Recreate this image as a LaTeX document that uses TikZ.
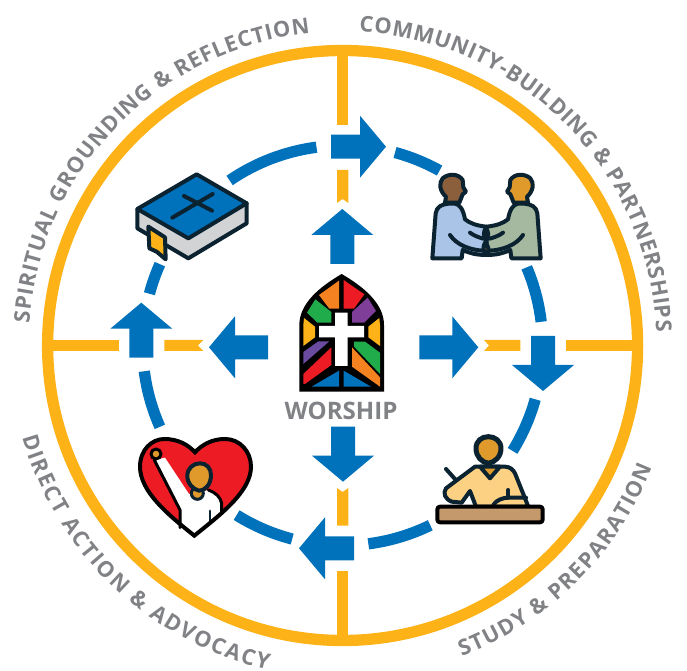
\documentclass[tikz,border=0pt]{standalone}
\usepackage{fontspec}
\setmainfont{Open Sans}
\usetikzlibrary{decorations.text}
\definecolor{ringgold}{HTML}{FDB217}
\definecolor{flowblue}{HTML}{0072BC}
\definecolor{labelgray}{HTML}{808285}
\definecolor{iconnavy}{HTML}{0B2230}
\definecolor{skinbrown}{HTML}{8B5E3C}
\definecolor{skingold}{HTML}{DF9A2B}
\definecolor{shirtblue}{HTML}{A9C4E6}
\definecolor{shirtgreen}{HTML}{A5B9A0}
\definecolor{shirtpeach}{HTML}{FDD183}
\definecolor{desktan}{HTML}{C49A6C}
\definecolor{pagegray}{HTML}{D1D3D4}
\definecolor{paneorange}{HTML}{F58220}
\definecolor{panered}{HTML}{ED1C24}
\definecolor{panegreen}{HTML}{21AC4B}
\definecolor{panepurple}{HTML}{7F3F98}
\definecolor{paneviolet}{HTML}{6A4BA0}
\tikzset{
	spoke/.style={ringgold,line width=0.226cm},
	ringarc/.style={flowblue,line width=0.226cm},
	iconline/.style={draw=iconnavy,line width=0.08cm,line join=round,line cap=round},
	ringlabel/.style={decorate,decoration={text along path,text align=fit to path,text={#1}}}
}
\def\labelfont{\fontsize{12.4}{14}\selectfont\bfseries\color{labelgray}}
\def\flowarrow(#1,#2)[#3][#4]{\fill[flowblue,shift={(#1,#2)},rotate=#3] (-#4,-12) -- (-26,-12) -- (-26,-31) -- (0,0) -- (-26,31) -- (-26,12) -- (-#4,12) -- cycle;}
\def\ringseg(#1:#2){\draw[ringarc] (342.6,345.5) ++(-#1:200) arc (-#1:-#2:200);}
\def\shakeman#1#2{
	\draw[iconline,fill=#2] (37,295) -- (47,160) .. controls (50,140) and (65,133) .. (85,131) -- (105,131) .. controls (120,133) and (130,150) .. (135,178) .. controls (150,190) and (170,197) .. (199,200) -- (199,285) .. controls (170,285) and (150,280) .. (128,270) -- (125,295) -- cycle;
	\draw[iconline] (90,225) .. controls (110,255) and (150,270) .. (190,272);
	\draw[iconline] (150,218) .. controls (160,226) and (175,232) .. (190,236);
	\draw[iconline,fill=#1] (75,128) -- (78,110) .. controls (60,95) and (55,70) .. (68,55) .. controls (85,40) and (115,40) .. (128,60) -- (130,82) -- (138,95) -- (128,103) -- (118,128) -- cycle;
}
\begin{document}
\begin{tikzpicture}[x=0.02cm,y=-0.02cm]
	\useasboundingbox (0,0) rectangle (687,671);
	%%%%% RING AND SPOKES %%%%%
	\draw[spoke] (342.6,345.5) ++(0:295) arc (0:360:295);
	\draw[spoke] (342.6,50) -- (342.6,125);
	\draw[spoke] (342.6,571) -- (342.6,641);
	\draw[spoke] (48,345.5) -- (119.3,345.5);
	\draw[spoke] (565.7,345.5) -- (637,345.5);
	\fill[ringgold] (337,170) -- (348.3,170) -- (348.3,203) -- (342.6,199) -- (337,203) -- cycle;
	\fill[ringgold] (337,525.7) -- (348.3,525.7) -- (348.3,488) -- (342.6,492) -- (337,488) -- cycle;
	\fill[ringgold] (164.3,340) -- (164.3,351) -- (203.3,351) -- (198,345.5) -- (203.3,340) -- cycle;
	\fill[ringgold] (520.3,340) -- (520.3,351) -- (484,351) -- (489,345.5) -- (484,340) -- cycle;
	
	%%%%% BLUE CIRCLE %%%%%
	\ringseg(74.8:61)
	\ringseg(23:6.8)
	\ringseg(-15.6:-31.8)
	\ringseg(-64:-82.6)
	\ringseg(-104.6:-122)
	\ringseg(204:187.4)
	\ringseg(165:156)
	\ringseg(124.4:97.5)
	
	\flowarrow(386,146.7)[0][55]
	\flowarrow(342.3,209)[90][55]
	\flowarrow(478.3,347.3)[0][59]
	\flowarrow(543,391)[-90][55]
	\flowarrow(343,481.7)[-90][55]
	\flowarrow(299,548.3)[180][55]
	\flowarrow(209,347.3)[180][59]
	\flowarrow(141.3,302.7)[90][55]
	
	%%%%% LABELS %%%%%
	\path[ringlabel={|\labelfont|SPIRITUAL GROUNDING {\&} REFLECTION}] (342.6,345.5) ++(-176:314) arc (-176:-96:314);
	\path[ringlabel={|\labelfont|COMMUNITY-BUILDING {\&} PARTNERSHIPS}] (342.6,345.5) ++(-87:314) arc (-87:-2.5:314);
	\path[ringlabel={|\labelfont|STUDY {\&} PREPARATION}] (342.6,345.5) ++(69:333) arc (69:21.4:333);
	\path[ringlabel={|\labelfont|DIRECT ACTION {\&} ADVOCACY}] (342.6,345.5) ++(164:333) arc (164:103:333);
	\node[inner sep=0pt,font=\fontsize{13.7}{15}\selectfont\bfseries,text=labelgray] (worship) at (341,411) {WORSHIP};
	
	%%%%% WINDOW %%%%%
	\begin{scope}[shift={(270,250)},scale=1/3]
		\fill[black] (88,425) -- (88,225) .. controls (88,160) and (150,110) .. (215,72) .. controls (280,110) and (342,160) .. (342,225) -- (342,425) -- cycle;
		\fill[paneorange] (207,92) -- (207,176) -- (178,176) -- (147,135) -- cycle;
		\fill[panered] (221,90) -- (283,133) -- (252,176) -- (221,176) -- cycle;
		\fill[panegreen] (111,188) -- (136,148) -- (184,186) -- (184,218) -- (142,218) -- cycle;
		\fill[panepurple] (293,143) -- (318,183) -- (283,218) -- (246,218) -- (246,186) -- cycle;
		\fill[ringgold] (102,204) -- (135,230) -- (135,262) -- (100,288) -- (100,225) -- cycle;
		\fill[ringgold] (328,204) -- (295,230) -- (295,262) -- (330,288) -- (330,225) -- cycle;
		\fill[paneviolet] (100,306) -- (145,274) -- (178,274) -- (100,342) -- cycle;
		\fill[panegreen] (252,275) -- (285,275) -- (330,308) -- (330,372) -- (252,290) -- cycle;
		\fill[panered] (100,372) -- (184,292) -- (184,345) -- (105,402) -- (100,402) -- cycle;
		\fill[paneorange] (246,292) -- (330,382) -- (330,410) -- (246,350) -- cycle;
		\fill[flowblue] (125,410) -- (207,362) -- (207,410) -- cycle;
		\fill[flowblue] (221,362) -- (303,410) -- (221,410) -- cycle;
		\fill[white] (195,188) -- (233,188) -- (233,228) -- (282,228) -- (282,262) -- (233,262) -- (233,348) -- (195,348) -- (195,262) -- (147,262) -- (147,228) -- (195,228) -- cycle;
	\end{scope}
	
	%%%%% BIBLE %%%%%
	\begin{scope}[shift={(120,160)},scale=1/3]
		\draw[iconline,fill=pagegray] (52,147) -- (52,205) -- (205,295) -- (380,190) -- (380,130) -- cycle;
		\draw[iconline,fill=flowblue] (52,147) -- (230,43) -- (380,130) -- (205,235) -- cycle;
		\draw[iconline] (157,173) -- (278,102);
		\draw[iconline] (192,108) -- (276,152);
		\draw[iconline,fill=ringgold] (85,200) -- (135,232) -- (137,298) -- (110,275) -- (88,265) -- cycle;
	\end{scope}
	
	%%%%% HANDSHAKE %%%%%
	\begin{scope}[shift={(420,160)},scale=1/3]
		\begin{scope}[shift={(399,0)},xscale=-1]
			\shakeman{skingold}{shirtgreen}
		\end{scope}
		\shakeman{skinbrown}{shirtblue}
		\draw[iconline,fill=skingold] (197,205) .. controls (190,215) and (190,228) .. (197,240) .. controls (207,230) and (207,215) .. (197,205) -- cycle;
		\draw[iconline,fill=skingold] (195,248) .. controls (188,260) and (190,272) .. (197,283) .. controls (210,278) and (208,260) .. (195,248) -- cycle;
	\end{scope}
	
	%%%%% STUDY %%%%%
	\begin{scope}[shift={(420,425)},scale=1/3]
		\draw[iconline] (78,132) -- (130,190);
		\draw[iconline,fill=shirtpeach] (168,245) -- (150,198) -- (125,233) -- (95,230) .. controls (75,222) and (68,205) .. (78,190) -- (165,125) -- (255,125) .. controls (270,125) and (280,135) .. (285,145) -- (325,245) -- cycle;
		\draw[iconline,fill=skingold] (180,125) -- (210,160) -- (240,125) -- cycle;
		\draw[iconline] (220,240) .. controls (228,225) and (250,218) .. (265,218) -- (318,218);
		\draw[iconline] (265,195) -- (265,218);
		\draw[iconline,fill=skingold,line width=0.1cm] (205,115) .. controls (185,112) and (168,95) .. (168,70) .. controls (168,48) and (185,35) .. (205,35) .. controls (225,35) and (243,48) .. (243,70) .. controls (243,95) and (225,112) .. (205,115) -- cycle;
		\draw[iconline,draw=black,fill=desktan,rounded corners=1.5pt] (52,245) rectangle (368,292);
	\end{scope}
	
	%%%%% HEART %%%%%
	\begin{scope}[shift={(125,425)},scale=1/3]
		\fill[panered] (208,332) .. controls (130,270) and (45,200) .. (45,125) .. controls (45,75) and (80,42) .. (118,42) .. controls (160,42) and (190,60) .. (210,82) .. controls (230,60) and (260,42) .. (300,42) .. controls (345,42) and (378,80) .. (378,125) .. controls (378,200) and (285,270) .. (208,332) -- cycle;
		\fill[white] (88,105) -- (165,255) -- (165,305) -- (208,332) -- (290,262) -- (290,235) .. controls (285,215) and (275,205) .. (250,195) -- (192,207) -- (120,98) -- cycle;
		\draw[iconline,draw=black,line width=0.06cm] (88,105) -- (165,255) -- (165,308);
		\draw[iconline,draw=black,line width=0.06cm] (250,195) .. controls (275,205) and (285,215) .. (290,235) -- (290,262);
		\draw[iconline,line width=0.06cm] (255,258) -- (255,290);
		\draw[iconline,draw=black,fill=skingold,line width=0.06cm] (93,87) circle (15);
		\draw[iconline,fill=skingold,line width=0.06cm] (217,205) circle (18);
		\draw[iconline,fill=skingold] (222,197) .. controls (200,190) and (187,175) .. (187,152) .. controls (187,130) and (205,115) .. (225,115) .. controls (245,115) and (258,130) .. (258,150) .. controls (258,175) and (245,195) .. (222,197) -- cycle;
		\draw[draw=black,line width=0.08cm,line join=miter] (208,332) .. controls (130,270) and (45,200) .. (45,125) .. controls (45,75) and (80,42) .. (118,42) .. controls (160,42) and (190,60) .. (210,82) .. controls (230,60) and (260,42) .. (300,42) .. controls (345,42) and (378,80) .. (378,125) .. controls (378,200) and (285,270) .. (208,332) -- cycle;
	\end{scope}
\end{tikzpicture}
\end{document}
